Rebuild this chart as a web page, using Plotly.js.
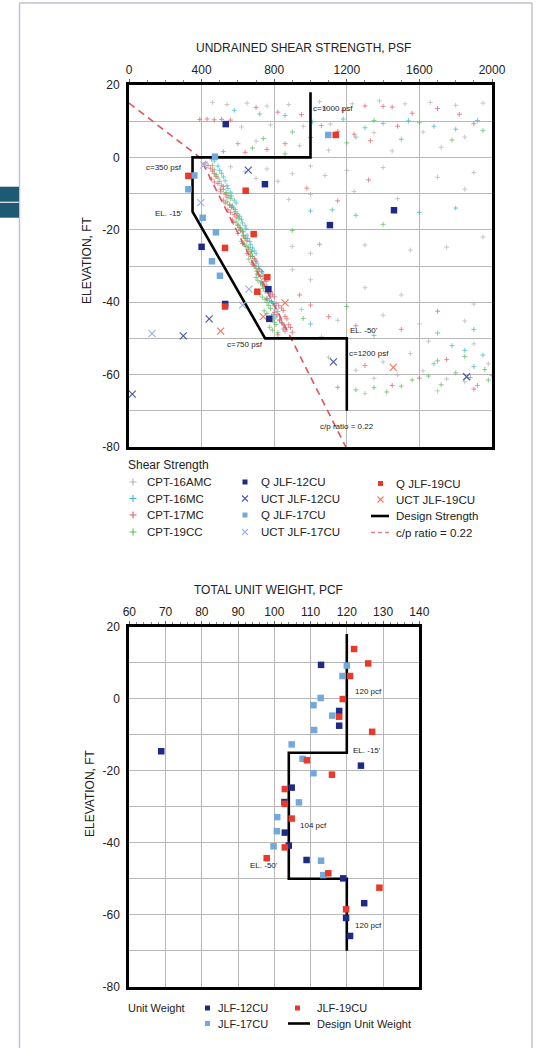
<!DOCTYPE html>
<html>
<head>
<meta charset="utf-8">
<script src="https://cdn.plot.ly/plotly-3.0.1.min.js"></script>
<style>
html,body{margin:0;padding:0;background:#fff;}
#chart{width:539px;height:1048px;}
</style>
</head>
<body>
<div id="chart"></div>
<script>
// ---------------- DATA: Undrained shear strength (psf) vs elevation (ft) ----------------
const cptNames = ["CPT-16AMC", "CPT-16MC", "CPT-17MC", "CPT-19CC"];

const cpt16amcPsf = [460,540,650,760,880,1050,1230,1380,1520,1660,1800,1950,620,780,960,1110,1350,1620,1850,700,940,1100,1450,1720,
  560,640,700,760,820,900,1000,1080,1200,1400,1700,1900,880,1000,1240,1480,1850,900,1000,1300,1550,1750,1950,900,1000,1300,1500,1900,950,1150,1400,1600,1850,1060,1650,1900,
  1100,1250,1400,1550,1350,1480,1620,1750,1850,1980,1300,1700];
const cpt16amcElev = [15.2,14.6,15.0,14.2,14.6,15.4,14.8,15.6,14.8,15.2,14.4,15.0,8.4,9.0,8.6,9.2,6.8,7.0,5.6,4.5,3.2,2.0,1.8,2.8,
  -2.6,-4.0,-5.8,-3.2,-6.6,-4.5,-2.4,-5.0,-3.6,-2.8,-5.5,-4.2,-11.6,-10.2,-9.4,-11.4,-8.8,-24.6,-26.5,-24.2,-25.6,-24.8,-22.0,-31.0,-33.8,-36.0,-38.0,-40.5,-42.0,-45.0,-43.6,-46.0,-45.2,-49.6,-50.8,-51.5,
  -55.2,-58.8,-56.5,-54.2,-61.0,-60.1,-59.0,-61.2,-62.0,-57.0,-65.2,-64.5];

const cpt16mcPsf = [580,720,860,1010,1180,1300,1400,1540,1680,1800,1920,1250,1500,
  470,500,520,540,560,580,570,595,620,640,630,655,670,690,680,705,720,740,730,755,770,760,790,810,795,830,850,
  455,490,510,530,545,565,590,585,610,625,645,650,665,680,700,695,715,735,750,745,765,780,775,800,820,810,840,860,
  1000,1120,1250,1600,1800,1000,1350,1700,1900,1780,1850,1950,1680,1900,2000];
const cpt16mcElev = [13.0,12.0,11.6,9.8,10.6,8.2,9.4,10.1,8.6,7.8,10.2,5.6,5.0,
  -1.0,-3.6,-5.4,-7.8,-9.6,-11.8,-13.4,-15.5,-17.2,-18.9,-20.6,-22.4,-24.1,-25.8,-27.4,-29.2,-30.9,-32.6,-34.3,-36.0,-37.6,-39.0,-40.2,-41.9,-43.4,-44.8,-46.3,
  -0.5,-2.4,-4.4,-6.5,-8.6,-10.7,-12.6,-14.4,-16.3,-18.1,-19.7,-21.5,-23.2,-25.0,-26.6,-28.3,-30.1,-31.7,-33.5,-35.2,-36.8,-38.3,-39.6,-41.0,-42.6,-44.1,-45.6,-47.0,
  -14.8,-14.5,-16.0,-15.2,-14.0,-46.0,-49.2,-48.5,-47.5,-52.0,-53.3,-54.6,-57.0,-57.8,-60.2];

const cpt17mcPsf = [390,430,470,510,560,700,820,950,1080,1180,1300,1400,1450,1560,1700,1820,1150,1240,1000,860,760,640,1330,1480,1900,
  420,450,470,455,490,520,505,540,530,565,560,590,575,610,600,640,625,660,650,690,680,715,705,745,735,770,790,760,810,840,800,860,830,880,850,900,820,
  435,460,480,470,505,530,520,555,545,580,570,600,615,630,650,640,675,670,700,695,730,725,755,760,780,800,785,825,850,815,870,845,890,860,
  980,1150,1320,1000,1100,1250,940,1500,1700,1300,1450,1600,1750,1900];
const cpt17mcElev = [10.5,10.6,10.4,10.5,10.3,13.8,12.5,11.8,13.6,13.0,14.2,14.1,13.9,12.2,13.5,11.9,7.2,6.4,5.5,3.8,2.2,1.4,4.6,8.6,9.3,
  -1.5,-3.0,-4.5,-6.0,-7.2,-8.1,-9.5,-11.0,-12.6,-13.8,-15.2,-16.5,-18.0,-19.4,-21.0,-22.3,-23.8,-25.0,-26.6,-27.9,-29.5,-30.8,-32.2,-33.6,-35.0,-36.4,-37.8,-39.1,-40.4,-41.6,-42.8,-43.9,-45.1,-46.2,-47.4,-48.3,-49.0,
  -2.2,-3.8,-5.3,-6.8,-8.8,-10.2,-11.8,-13.1,-14.5,-15.8,-17.3,-18.7,-20.2,-21.7,-23.1,-24.5,-26.0,-27.3,-28.7,-30.1,-31.5,-32.9,-34.3,-35.7,-37.1,-38.5,-39.8,-41.0,-42.3,-43.5,-44.6,-45.8,-47.0,-48.0,
  -8.5,-12.0,-6.2,-40.8,-44.0,-46.5,-38.0,-47.5,-42.5,-57.5,-63.0,-61.0,-55.8,-64.0];

const cpt19ccPsf = [600,680,740,900,1060,1200,1350,1600,1780,1950,520,860,
  460,480,500,520,550,540,575,600,590,615,630,620,650,670,660,690,705,700,725,740,720,750,770,745,785,800,775,820,
  470,490,510,535,560,555,585,605,600,625,640,635,660,680,675,700,715,710,735,750,735,760,780,760,795,810,790,
  900,1050,1400,960,1200,
  1150,1250,1350,1420,1500,1560,1650,1720,1800,1880,1960,1920,1700,1850,1980];
const cpt19ccElev = [3.8,2.6,5.2,7.0,8.8,4.0,10.2,9.6,4.8,7.4,1.6,1.0,
  -2.2,-4.8,-6.6,-8.9,-10.5,-12.3,-14.0,-16.0,-17.8,-19.6,-21.5,-23.2,-24.6,-26.4,-28.1,-29.9,-31.5,-33.2,-34.7,-36.2,-37.8,-39.3,-40.9,-42.4,-43.8,-45.5,-46.9,-48.4,
  -3.4,-5.7,-7.7,-9.7,-11.4,-13.2,-15.0,-16.9,-18.7,-20.5,-22.4,-24.0,-25.5,-27.3,-29.0,-30.7,-32.4,-34.0,-35.5,-37.0,-38.6,-40.1,-41.7,-43.1,-44.6,-46.2,-47.7,
  -20.2,-24.0,-18.5,-44.5,-41.2,
  -63.5,-64.2,-63.6,-64.8,-63.2,-61.5,-60.4,-62.8,-59.5,-60.8,-58.6,-63.0,-56.2,-55.0,-61.5];

const qJlf12Psf  = [533, 749, 1460, 1107, 400, 768, 530, 773];
const qJlf12Elev = [9.2, -7.4, -14.6, -18.7, -24.7, -36.4, -40.5, -44.6];
const qJlf17Psf  = [1098, 474, 360, 327, 406, 479, 457, 501];
const qJlf17Elev = [6.2, 0.2, -5.0, -8.8, -16.7, -20.7, -28.7, -32.7];
const qJlf19Psf  = [1139, 327, 643, 687, 529, 762, 707, 529];
const qJlf19Elev = [6.2, -5.1, -9.2, -21.2, -25.0, -33.1, -37.1, -41.2];
const uctJlf12Psf  = [657, 442, 299, 1126, 1860, 18];
const uctJlf12Elev = [-3.5, -44.6, -49.3, -56.5, -60.6, -65.4];
const uctJlf17Psf  = [413, 395, 661, 626, 127];
const uctJlf17Elev = [-2.1, -12.5, -36.4, -40.8, -48.7];
const uctJlf19Psf  = [860, 740, 505, 1456];
const uctJlf19Elev = [-40.2, -44.0, -48.0, -58.0];

const designStrengthPsf  = [1000, 1000, 350, 350, 750, 1200, 1200];
const designStrengthElev = [18, 0, 0, -15, -50, -50, -70];
const cpRatioPsf  = [0, 390, 1195];
const cpRatioElev = [15, 0, -80];

// ---------------- DATA: Total unit weight (pcf) vs elevation (ft) ----------------
const uw12Pcf  = [112.9,117.9,117.9,68.8,123.9,104.8,102.8,102.9,104.0,108.9,119.0,124.8,119.8,120.9];
const uw12Elev = [9.4,-3.4,-7.5,-14.6,-18.6,-24.7,-28.7,-37.2,-40.8,-44.8,-49.9,-56.8,-60.9,-65.9];
const uw17Pcf  = [120.0,118.8,112.8,110.8,116.0,111.0,104.8,107.8,110.8,106.8,100.8,100.7,99.8,112.9,113.5];
const uw17Elev = [9.2,6.3,0.2,-1.8,-4.7,-8.7,-12.7,-16.7,-20.7,-28.8,-32.9,-36.8,-41.0,-45.0,-49.0];
const uw19Pcf  = [122.0,125.9,120.9,118.9,117.9,127.0,109.0,115.9,102.9,102.9,104.8,102.9,97.9,114.9,129.0,119.8];
const uw19Elev = [13.8,9.8,6.3,-0.1,-5.0,-9.2,-17.1,-21.1,-25.1,-29.2,-33.3,-41.3,-44.3,-48.5,-52.5,-58.5];
const designUwPcf  = [120, 120, 104, 104, 120, 120];
const designUwElev = [18, -15, -15, -50, -50, -70];

// tick labels
const psfTicks = [0, 400, 800, 1200, 1600, 2000];
const pcfTicks = [60, 70, 80, 90, 100, 110, 120, 130, 140];
const elevTicks = [20, 0, -20, -40, -60, -80];

// ---------------- STYLE ----------------
const W = 539, H = 1048;
const FONT = "Liberation Sans, Arial, Helvetica, sans-serif";
const C = {
  q12: "#1f2a86", q17: "#72a8dc", q19: "#e8392a",
  u12: "#4c5aa6", u17: "#9db4e4", u19: "#f07a5a",
  cpt: ["#b4b4b4", "#3fb8c0", "#e45a6a", "#5cb85c"],
  grid: "#b8b8b8", text: "#222"
};
const px = v => v / W;           // page x pixel -> paper
const py = v => 1 - v / H;       // page y pixel -> paper

function pts(x, y, name, sym, color, size, xa, ya, lw, op) {
  const m = {symbol: sym, size: size, color: color, opacity: op || 1};
  if (sym.indexOf("thin") >= 0) m.line = {color: color, width: lw || 1.2};
  return {type: "scatter", mode: "markers", x: x, y: y, name: name, xaxis: xa, yaxis: ya,
          marker: m, showlegend: false, hoverinfo: "x+y+name", cliponaxis: false};
}

const traces = [];
const cptX = [cpt16amcPsf, cpt16mcPsf, cpt17mcPsf, cpt19ccPsf];
const cptY = [cpt16amcElev, cpt16mcElev, cpt17mcElev, cpt19ccElev];
for (let i = 0; i < 4; i++) traces.push(pts(cptX[i], cptY[i], cptNames[i], "cross-thin", C.cpt[i], 3.5, "x", "y", 0.9, 0.8));

traces.push({type: "scatter", mode: "lines", x: cpRatioPsf, y: cpRatioElev, name: "c/p ratio = 0.22",
  xaxis: "x", yaxis: "y", line: {color: "#e2545c", width: 1.6, dash: "7px,5px"}, showlegend: false});
traces.push({type: "scatter", mode: "lines", x: designStrengthPsf, y: designStrengthElev, name: "Design Strength",
  xaxis: "x", yaxis: "y", line: {color: "#000", width: 2.6}, showlegend: false});

traces.push(pts(uctJlf12Psf, uctJlf12Elev, "UCT JLF-12CU", "x-thin", C.u12, 7, "x", "y"));
traces.push(pts(uctJlf17Psf, uctJlf17Elev, "UCT JLF-17CU", "x-thin", C.u17, 7, "x", "y"));
traces.push(pts(uctJlf19Psf, uctJlf19Elev, "UCT JLF-19CU", "x-thin", C.u19, 7, "x", "y"));
traces.push(pts(qJlf12Psf, qJlf12Elev, "Q JLF-12CU", "square", C.q12, 6.5, "x", "y"));
traces.push(pts(qJlf17Psf, qJlf17Elev, "Q JLF-17CU", "square", C.q17, 6.5, "x", "y"));
traces.push(pts(qJlf19Psf, qJlf19Elev, "Q JLF-19CU", "square", C.q19, 6.5, "x", "y"));

// bottom chart
traces.push({type: "scatter", mode: "lines", x: designUwPcf, y: designUwElev, name: "Design Unit Weight",
  xaxis: "x2", yaxis: "y2", line: {color: "#000", width: 2.6}, showlegend: false});
traces.push(pts(uw17Pcf, uw17Elev, "JLF-17CU", "square", C.q17, 6.5, "x2", "y2"));
traces.push(pts(uw12Pcf, uw12Elev, "JLF-12CU", "square", C.q12, 6.5, "x2", "y2"));
traces.push(pts(uw19Pcf, uw19Elev, "JLF-19CU", "square", C.q19, 6.5, "x2", "y2"));

// ---------------- LEGENDS (drawn on a page-pixel overlay axis) ----------------
const annotations = [];
function legText(x, y, t, size) {
  annotations.push({xref: "x3", yref: "y3", x: x, y: y, text: t, showarrow: false, xanchor: "left", yanchor: "middle",
    font: {family: FONT, size: size || 11.5, color: C.text}});
}
function legSym(x, y, sym, color, size) {
  const m = {symbol: sym, size: size, color: color};
  if (sym.indexOf("thin") >= 0) m.line = {color: color, width: 1.1};
  traces.push({type: "scatter", mode: "markers", x: [x], y: [y], xaxis: "x3", yaxis: "y3", marker: m,
    showlegend: false, hoverinfo: "skip"});
}
function legLine(x0, x1, y, color, dash) {
  traces.push({type: "scatter", mode: "lines", x: [x0, x1], y: [y, y], xaxis: "x3", yaxis: "y3",
    line: {color: color, width: dash ? 1.5 : 2.6, dash: dash || "solid"}, showlegend: false, hoverinfo: "skip"});
}
legText(126, 465, "Shear Strength", 12);
const rowsA = [482, 498.5, 515, 532];
for (let i = 0; i < 4; i++) { legSym(133, rowsA[i], "cross-thin", C.cpt[i], 5); legText(145, rowsA[i], cptNames[i]); }
const col2 = [["Q JLF-12CU", "square", C.q12], ["UCT JLF-12CU", "x-thin", C.u12], ["Q JLF-17CU", "square", C.q17], ["UCT JLF-17CU", "x-thin", C.u17]];
col2.forEach((c, i) => { legSym(245, rowsA[i], c[1], c[2], c[1] === "square" ? 5 : 6); legText(259, rowsA[i], c[0]); });
const rowsC = [483.5, 499.5, 516, 532.5];
legSym(380.5, rowsC[0], "square", C.q19, 5); legText(394, rowsC[0], "Q JLF-19CU");
legSym(380.5, rowsC[1], "x-thin", C.u19, 6); legText(394, rowsC[1], "UCT JLF-19CU");
legLine(371, 389, rowsC[2], "#000"); legText(394, rowsC[2], "Design Strength");
legLine(371, 389, rowsC[3], "#e8808a", "4px,3px"); legText(394, rowsC[3], "c/p ratio = 0.22");

legText(126, 1008, "Unit Weight", 11);
legSym(207.5, 1008, "square", C.q12, 5); legText(216, 1008, "JLF-12CU", 11);
legSym(297.5, 1008, "square", C.q19, 5); legText(315, 1008, "JLF-19CU", 11);
legSym(207.5, 1023.5, "square", C.q17, 5); legText(216, 1023.5, "JLF-17CU", 11);
legLine(288, 310, 1023.5, "#000"); legText(315, 1023.5, "Design Unit Weight", 11);

// ---------------- in-plot labels ----------------
function lab(xa, ya, x, y, t, anchor) {
  annotations.push({xref: xa, yref: ya, x: x, y: y, text: t, showarrow: false, xanchor: anchor, yanchor: "middle",
    font: {family: FONT, size: 8, color: "#222"}});
}
lab("x", "y", 1005, 13.4, "c=1000 psf", "left");
lab("x", "y", 302, -2.7, "c=350 psf", "right");
lab("x", "y", 310, -15.6, "EL. -15'", "right");
lab("x", "y", 639, -51.6, "c=750 psf", "center");
lab("x", "y", 1207, -47.9, "EL. -50'", "left");
lab("x", "y", 1200, -54.3, "c=1200 psf", "left");
lab("x", "y", 1040, -74.4, "c/p ratio = 0.22", "left");
lab("x2", "y2", 121.8, 1.9, "120 pcf", "left");
lab("x2", "y2", 121.1, -14.4, "EL. -15'", "left");
lab("x2", "y2", 106.6, -35.1, "104 pcf", "left");
lab("x2", "y2", 101.6, -46.2, "EL. -50'", "right");
lab("x2", "y2", 121.8, -63.1, "120 pcf", "left");

// titles
annotations.push({xref: "paper", yref: "paper", x: px(303), y: py(48), text: "UNDRAINED SHEAR STRENGTH, PSF",
  showarrow: false, xanchor: "center", yanchor: "middle", font: {family: FONT, size: 12, color: C.text}});
annotations.push({xref: "paper", yref: "paper", x: px(268.5), y: py(589.5), text: "TOTAL UNIT WEIGHT, PCF",
  showarrow: false, xanchor: "center", yanchor: "middle", font: {family: FONT, size: 12, color: C.text}});
annotations.push({xref: "paper", yref: "paper", x: px(87), y: py(260), text: "ELEVATION, FT", textangle: -90,
  showarrow: false, xanchor: "center", yanchor: "middle", font: {family: FONT, size: 12, color: C.text}});
annotations.push({xref: "paper", yref: "paper", x: px(90), y: py(793), text: "ELEVATION, FT", textangle: -90,
  showarrow: false, xanchor: "center", yanchor: "middle", font: {family: FONT, size: 12, color: C.text}});

// ---------------- AXES ----------------
function xAx(dom, range, ticks, minorD, anchor) {
  return {domain: dom, range: range, anchor: anchor, side: "top", tickmode: "array", tickvals: ticks,
    ticktext: ticks.map(String), showgrid: true, gridcolor: C.grid, gridwidth: 1, zeroline: false,
    showline: true, linewidth: 3, linecolor: "#000", mirror: true, ticks: "outside", ticklen: 3, tickwidth: 1,
    tickcolor: "#666", minor: {dtick: minorD, tick0: 0, ticks: "outside", ticklen: 2, tickcolor: "#888", showgrid: false},
    tickfont: {family: FONT, size: 12, color: C.text}, fixedrange: true};
}
function yAx(dom, anchor) {
  return {domain: dom, range: [-80, 20], anchor: anchor, tickmode: "array", tickvals: elevTicks,
    ticktext: elevTicks.map(String), showgrid: true, gridcolor: C.grid, gridwidth: 1, zeroline: false,
    minor: {dtick: 10, tick0: 0, showgrid: true, gridcolor: C.grid, gridwidth: 1, ticks: ""},
    showline: true, linewidth: 3, linecolor: "#000", mirror: true, ticks: "", ticklabelstandoff: 4,
    tickfont: {family: FONT, size: 12, color: C.text}, fixedrange: true};
}

const layout = {
  width: W, height: H, margin: {l: 0, r: 0, t: 0, b: 0}, paper_bgcolor: "#fff", plot_bgcolor: "rgba(0,0,0,0)",
  showlegend: false, font: {family: FONT, color: C.text},
  xaxis: xAx([px(129), px(492)], [0, 2000], psfTicks, 100, "y"),
  yaxis: yAx([py(447), py(85)], "x"),
  xaxis2: xAx([px(129.3), px(419.3)], [60, 140], pcfTicks, 2, "y2"),
  yaxis2: yAx([py(986.7), py(626.7)], "x2"),
  xaxis3: {domain: [0, 1], range: [0, W], visible: false, anchor: "y3", fixedrange: true},
  yaxis3: {domain: [0, 1], range: [H, 0], visible: false, anchor: "x3", fixedrange: true},
  annotations: annotations,
  shapes: [
    {type: "line", xref: "paper", yref: "paper", x0: px(19.5), x1: px(19.5), y0: py(3), y1: 0, line: {color: "#c3bfdc", width: 1.5}},
    {type: "line", xref: "paper", yref: "paper", x0: px(19.5), x1: px(532), y0: py(3), y1: py(3), line: {color: "#c3bfdc", width: 1.5}},
    {type: "line", xref: "paper", yref: "paper", x0: px(532), x1: px(532), y0: py(3), y1: 0, line: {color: "#c3bfdc", width: 1.5}},
    {type: "rect", xref: "paper", yref: "paper", x0: 0, x1: px(19), y0: py(201.7), y1: py(186.7), fillcolor: "#1e5a72", line: {width: 0}},
    {type: "rect", xref: "paper", yref: "paper", x0: 0, x1: px(19), y0: py(217.7), y1: py(202.8), fillcolor: "#1e5a72", line: {width: 0}}
  ]
};

Plotly.newPlot("chart", traces, layout, {staticPlot: true, displayModeBar: false});
</script>
</body>
</html>
